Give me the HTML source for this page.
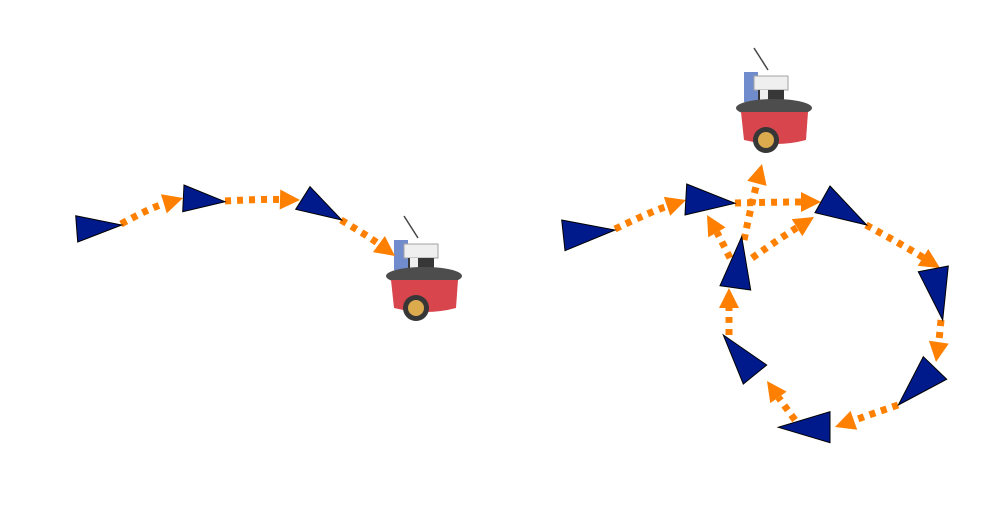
<!DOCTYPE html>
<html><head><meta charset="utf-8"><style>
html,body{margin:0;padding:0;background:#fff;width:1000px;height:512px;overflow:hidden}
svg{display:block}
</style></head><body>
<svg id="fig" width="1000" height="512" viewBox="0 0 1000 512" xmlns="http://www.w3.org/2000/svg">
<defs>
<g id="robot">
  <line x1="18" y1="0" x2="32" y2="22" stroke="#333" stroke-width="1.5"/>
  <rect x="8" y="24" width="14" height="30" fill="#3a5fb8" opacity="0.8"/>
  <rect x="18" y="28" width="34" height="14" fill="#eee" stroke="#999"/>
  <rect x="22" y="42" width="26" height="18" fill="#222"/>
  <rect x="24" y="42" width="8" height="18" fill="#eee"/>
  <ellipse cx="38" cy="60" rx="38" ry="9" fill="#3a3a3a"/>
  <path d="M5 64 L72 64 L70 92 Q40 100 8 92 Z" fill="#d4313a"/>
  <circle cx="30" cy="92" r="13" fill="#222"/>
  <circle cx="30" cy="92" r="8" fill="#d9a23a"/>
</g>
</defs>
</svg>
<script>
const NS='http://www.w3.org/2000/svg';
const svg=document.getElementById('fig');
// pose triangles (vertex lists)
const poses=[
 [[75.7,215.7],[77.7,242],[121.7,225]],
 [[184,185],[182.7,211.7],[225,201.7]],
 [[310,186.7],[295.7,209.3],[341.7,220]],
 [[561.7,220],[565,250.7],[615,230]],
 [[686.7,184],[685,215],[735,203.3]],
 [[830,186],[815,212.7],[866.7,225]],
 [[918.3,271.7],[948.3,266],[942.7,320]],
 [[923.3,356.7],[946.7,379.3],[898.3,405]],
 [[830,411.7],[830,442.7],[778.3,427.3]],
 [[723.3,335],[766.7,365],[743.3,384]],
 [[741.7,236.7],[720,285.7],[750.7,290]]
];
// motion edges: start, control, end (arrow tip)
const edges=[
 [[121,224],[150,208],[183,198]],
 [[225,201],[262,199],[300,200]],
 [[341,220],[368,236],[395,256]],
 [[615,229],[650,212],[686,200]],
 [[735,203],[778,202],[821,202]],
 [[866,225],[903,245],[940,268]],
 [[941,320],[939,341],[936,362]],
 [[898,405],[866,416],[835,427]],
 [[795,420],[781,401],[767,381]],
 [[729,335],[729,312],[729,288]],
 [[744,240],[752,202],[762,164]],
 [[752,258],[782,237],[814,217]],
 [[730,258],[719,236],[707,215]]
];
const robots=[[386,216],[736,48]];
robots.forEach((r,i)=>{
 const u=document.createElementNS(NS,'use');
 u.setAttribute('href','#robot');
 u.setAttribute('transform',`translate(${r[0]},${r[1]})`);
 u.setAttribute('opacity','0.9');
 
 
 svg.appendChild(u);
});
edges.forEach((e,i)=>{
 const [s,c,t]=e;
 const dx=t[0]-c[0],dy=t[1]-c[1],L=Math.hypot(dx,dy),ux=dx/L,uy=dy/L;
 const hb=[t[0]-ux*20,t[1]-uy*20];
 const p=document.createElementNS(NS,'path');
 p.setAttribute('d',`M${s[0]},${s[1]} Q${c[0]},${c[1]} ${hb[0]},${hb[1]}`);
 p.setAttribute('fill','none');p.setAttribute('stroke','#ff8000');
 p.setAttribute('stroke-width','7');p.setAttribute('stroke-dasharray','6 6');
 
 
 svg.appendChild(p);
 const h=document.createElementNS(NS,'polygon');
 const px=-uy,py=ux;
 h.setAttribute('points',`${t[0]},${t[1]} ${hb[0]+px*10},${hb[1]+py*10} ${hb[0]-px*10},${hb[1]-py*10}`);
 h.setAttribute('fill','#ff8000');
 
 
 svg.appendChild(h);
});
poses.forEach((p,i)=>{
 const g=document.createElementNS(NS,'polygon');
 g.setAttribute('points',p.map(v=>v.join(',')).join(' '));
 g.setAttribute('fill','#001a8c');g.setAttribute('stroke','#000');g.setAttribute('stroke-width','1');
 
 
 svg.appendChild(g);
});
</script>
</body></html>
